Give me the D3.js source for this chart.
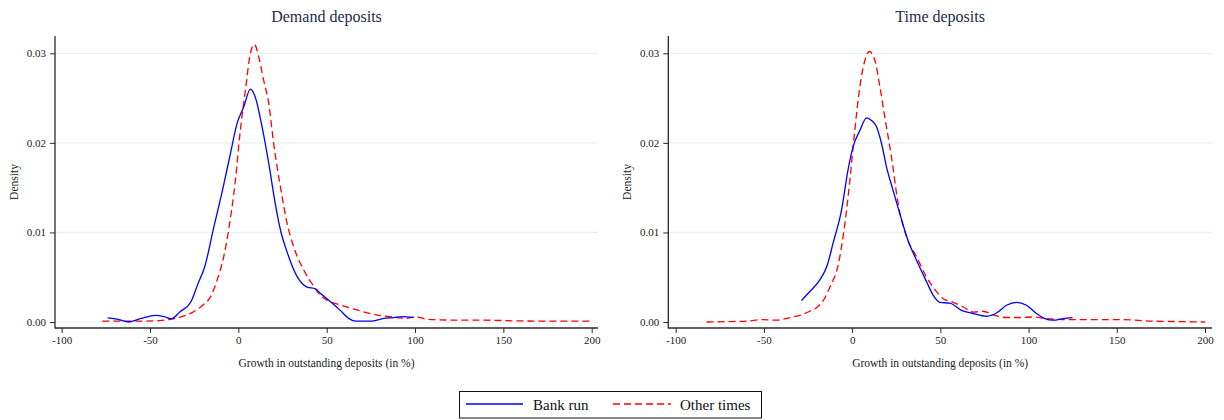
<!DOCTYPE html>
<html>
<head>
<meta charset="utf-8">
<script src="https://cdn.jsdelivr.net/npm/d3@7"></script>
<style>
  html, body { margin: 0; padding: 0; background: #fff; }
  svg { display: block; font-family: "Liberation Serif", "Times New Roman", serif; }
</style>
</head>
<body>
<svg id="chart" width="1224" height="420"></svg>
<script>
// Kernel density estimates of deposit growth, bank-run months vs other times

// Demand deposits — bank run
const demandRunX = [-74, -68, -62, -55, -47, -42, -38, -33, -27, -23, -19, -14, -9, -4.5, -0.7, 3, 6.8, 9.6, 13.4, 17.2, 20.9, 23.8, 27.6, 33.2, 38.9, 43.6, 46.4, 52, 57.7, 62.4, 66.2, 75.7, 82.3, 88, 92.6, 99.2];
const demandRunY = [0.00045, 0.0003, 0.0000, 0.0004, 0.00075, 0.0006, 0.00035, 0.00115, 0.0022, 0.0042, 0.0062, 0.0105, 0.0147, 0.0188, 0.0222, 0.0240, 0.0260, 0.0251, 0.0218, 0.0177, 0.0132, 0.0103, 0.0078, 0.0051, 0.0039, 0.0037, 0.0032, 0.0023, 0.0013, 0.0004, 0.0001, 0.0001, 0.0004, 0.0005, 0.0006, 0.0005];

// Demand deposits — other times
const demandOtherX = [-77, -65, -55, -45, -38.5, -32, -25.3, -20, -15.8, -12, -8.3, -5.5, -1.7, 1.1, 4, 6.8, 9.1, 11.5, 14.3, 17.2, 20, 23.8, 27.6, 31.3, 37, 42.6, 46.4, 50.2, 57.7, 67.2, 78.5, 89.8, 95, 100.2, 106.8, 120, 140, 160, 180, 200];
const demandOtherY = [0.0001, 0.0001, 0.0001, 0.00015, 0.0003, 0.0006, 0.00115, 0.0019, 0.0028, 0.0047, 0.0073, 0.0103, 0.0158, 0.0214, 0.0259, 0.0300, 0.0310, 0.0296, 0.0270, 0.0244, 0.0199, 0.0151, 0.0110, 0.0084, 0.0058, 0.0040, 0.0030, 0.00245, 0.0019, 0.00134, 0.00078, 0.0005, 0.0004, 0.0006, 0.0003, 0.00022, 0.0002, 0.00012, 0.0001, 0.0001];

// Time deposits — bank run
const timeRunX = [-28.7, -24, -18.3, -14, -10.8, -6, -2.3, 0.6, 4.4, 8.2, 11, 13.8, 16.7, 19.5, 23.2, 27, 31.7, 36.5, 42.2, 45.9, 49.7, 55.4, 62, 68.6, 76.2, 81.8, 87.5, 93.2, 98.8, 104.5, 109.2, 113.9, 119.6, 124.9];
const timeRunY = [0.0024, 0.0034, 0.0047, 0.0064, 0.0088, 0.0125, 0.0170, 0.0196, 0.0214, 0.0228, 0.0225, 0.0218, 0.0199, 0.0173, 0.0147, 0.0121, 0.0091, 0.0069, 0.0045, 0.0030, 0.0022, 0.0021, 0.0013, 0.00094, 0.00064, 0.0010, 0.00187, 0.0022, 0.00187, 0.00094, 0.00038, 0.0002, 0.00038, 0.0005];

// Time deposits — other times
const timeOtherX = [-82.5, -70, -60, -50.4, -42.8, -35.3, -29.6, -24, -20.2, -16, -12.6, -8, -4.1, -1.3, 1.5, 4.4, 7.2, 9.7, 12.9, 15.7, 18.5, 22.3, 26.1, 30.8, 36.5, 42.2, 47.8, 51.6, 57.2, 62.9, 68.6, 74.2, 79.9, 87.5, 95, 102.6, 110.2, 123.4, 138.5, 151.7, 170, 185, 200];
const timeOtherY = [0.0, 0.00005, 0.0001, 0.00027, 0.0002, 0.0005, 0.00075, 0.0012, 0.0016, 0.0025, 0.0039, 0.0063, 0.0110, 0.0158, 0.0214, 0.0263, 0.0292, 0.0302, 0.0292, 0.0263, 0.0229, 0.0184, 0.0132, 0.0095, 0.0073, 0.0050, 0.0034, 0.0026, 0.0022, 0.0017, 0.0011, 0.0012, 0.0008, 0.0005, 0.0005, 0.00056, 0.00038, 0.00027, 0.00027, 0.00027, 0.0001, 0.00005, 0.0];

const panelTitles = ["Demand deposits", "Time deposits"];
const xTicks = [-100, -50, 0, 50, 100, 150, 200];
const yTicks = [0, 0.01, 0.02, 0.03];
const seriesNames = ["Bank run", "Other times"];
const xTitle = "Growth in outstanding deposits (in %)";
const yTitle = "Density";

const runColor = "#0000ff";
const otherColor = "#ff0000";
const dash = "7,4";
const titleColor = "#1e2b4e";
const gridColor = "#e9f0f4";
const axisColor = "#2a2a2a";

const svg = d3.select("#chart");
svg.append("rect").attr("width", 1224).attr("height", 420).attr("fill", "#fff");

const zip = (xs, ys) => xs.map((x, i) => ({x, y: ys[i]}));

const panels = [
  {left: 55, right: 598, xr: [61.7, 591.7], title: panelTitles[0],
   run: zip(demandRunX, demandRunY), other: zip(demandOtherX, demandOtherY)},
  {left: 668.3, right: 1212, xr: [675.7, 1205], title: panelTitles[1],
   run: zip(timeRunX, timeRunY), other: zip(timeOtherX, timeOtherY)}
];

const plotTop = 36, plotBottom = 328;

panels.forEach(p => {
  const g = svg.append("g");
  const x = d3.scaleLinear().domain([-100, 200]).range(p.xr);
  const y = d3.scaleLinear().domain([0, 0.03]).range([322, 53.3]);

  // horizontal grid
  g.append("g").selectAll("line").data(yTicks).join("line")
    .attr("x1", p.left).attr("x2", p.right)
    .attr("y1", d => y(d)).attr("y2", d => y(d))
    .attr("stroke", gridColor).attr("stroke-width", 1.2);

  // y axis
  const ya = g.append("g").attr("transform", `translate(${p.left},0)`)
    .call(d3.axisLeft(y).tickValues(yTicks).tickFormat(d3.format(".2f")).tickSize(5).tickPadding(4));
  ya.select(".domain").remove();
  ya.selectAll(".tick line").attr("stroke", axisColor);
  ya.selectAll(".tick text").attr("font-size", 11).attr("fill", "#222")
    .attr("font-family", "Liberation Serif, Times New Roman, serif");
  g.append("line").attr("x1", p.left).attr("x2", p.left).attr("y1", plotTop).attr("y2", plotBottom + 0.5)
    .attr("stroke", axisColor).attr("stroke-width", 1.3);

  // x axis
  const xa = g.append("g").attr("transform", `translate(0,${plotBottom})`)
    .call(d3.axisBottom(x).tickValues(xTicks).tickFormat(d3.format("d")).tickSize(5).tickPadding(3));
  xa.select(".domain").remove();
  xa.selectAll(".tick line").attr("stroke", axisColor);
  xa.selectAll(".tick text").attr("font-size", 11).attr("fill", "#222")
    .attr("font-family", "Liberation Serif, Times New Roman, serif")
    .text(d => d < 0 ? "-" + Math.abs(d) : d);
  g.append("line").attr("x1", p.left).attr("x2", p.right).attr("y1", plotBottom).attr("y2", plotBottom)
    .attr("stroke", axisColor).attr("stroke-width", 1.3);

  // titles
  const cx = (p.left + p.right) / 2;
  g.append("text").attr("x", cx).attr("y", 22).attr("text-anchor", "middle")
    .attr("font-size", 16).attr("fill", titleColor).text(p.title);
  g.append("text").attr("x", cx).attr("y", 367).attr("text-anchor", "middle")
    .attr("font-size", 11.5).attr("fill", "#222").text(xTitle);
  g.append("text").attr("transform", `translate(${p.left - 37},182) rotate(-90)`)
    .attr("text-anchor", "middle").attr("font-size", 11.5).attr("fill", "#222").text(yTitle);

  const line = d3.line().x(d => x(d.x)).y(d => y(d.y)).curve(d3.curveMonotoneX);

  g.append("path").datum(p.other).attr("d", line)
    .attr("fill", "none").attr("stroke", otherColor).attr("stroke-width", 1.3)
    .attr("stroke-dasharray", dash);
  g.append("path").datum(p.run).attr("d", line)
    .attr("fill", "none").attr("stroke", runColor).attr("stroke-width", 1.3);
});

// legend
const lg = svg.append("g");
lg.append("rect").attr("x", 459.5).attr("y", 391.5).attr("width", 302).attr("height", 26.5)
  .attr("fill", "#fff").attr("stroke", "#111").attr("stroke-width", 1);
lg.append("line").attr("x1", 466).attr("x2", 523).attr("y1", 404).attr("y2", 404)
  .attr("stroke", runColor).attr("stroke-width", 1.5);
lg.append("text").attr("x", 533).attr("y", 409.5).attr("font-size", 15).attr("fill", "#111").text(seriesNames[0]);
lg.append("line").attr("x1", 613).attr("x2", 671).attr("y1", 404).attr("y2", 404)
  .attr("stroke", otherColor).attr("stroke-width", 1.5).attr("stroke-dasharray", dash);
lg.append("text").attr("x", 680).attr("y", 409.5).attr("font-size", 15).attr("fill", "#111").text(seriesNames[1]);
</script>
</body>
</html>
